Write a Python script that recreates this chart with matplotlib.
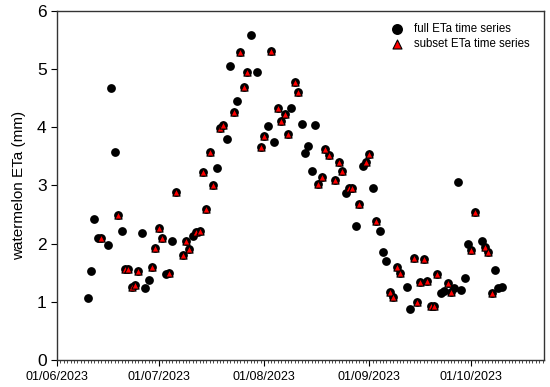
import matplotlib
matplotlib.use('Agg')
import matplotlib.pyplot as plt
import matplotlib.dates as mdates
import pandas as pd

plt.rcParams['font.family'] = ['Liberation Sans', 'DejaVu Sans']

# day offsets from 1 June 2023 and ETa (mm) of the full series
full_day = [9, 10, 11, 12, 13, 15, 16, 17, 18, 19, 20, 21, 22, 23, 24, 25, 26, 27, 28, 29,
            30, 31, 32, 33, 34, 35, 37, 38, 39, 40, 41, 42, 43, 44, 45, 46, 47, 48, 49, 50,
            51, 52, 53, 54, 55, 56, 57, 59, 60, 61, 62, 63, 64, 65, 66, 67, 68, 69, 70, 71,
            72, 73, 74, 75, 76, 77, 78, 79, 80, 82, 83, 84, 85, 86, 87, 88, 89, 90, 91, 92,
            93, 94, 95, 96, 97, 98, 99, 100, 101, 103, 104, 105, 106, 107, 108, 109, 110, 111, 112, 113,
            114, 115, 116, 117, 118, 119, 120, 121, 122, 123, 125, 126, 127, 128, 129, 130, 131]
full_eta = [1.07, 1.53, 2.42, 2.10, 2.10, 1.98, 4.68, 3.58, 2.49, 2.22, 1.57, 1.57, 1.25, 1.29, 1.53, 2.18, 1.23, 1.37, 1.59, 1.92,
            2.27, 2.10, 1.47, 1.50, 2.04, 2.88, 1.80, 2.04, 1.91, 2.13, 2.20, 2.22, 3.23, 2.60, 3.58, 3.00, 3.30, 3.99, 4.04, 3.79,
            5.05, 4.26, 4.45, 5.29, 4.69, 4.94, 5.58, 4.94, 3.66, 3.84, 4.02, 5.30, 3.75, 4.33, 4.11, 4.22, 3.88, 4.32, 4.78, 4.60,
            4.05, 3.55, 3.68, 3.25, 4.04, 3.03, 3.15, 3.63, 3.52, 3.09, 3.40, 3.25, 2.86, 2.96, 2.95, 2.31, 2.68, 3.34, 3.40, 3.54,
            2.96, 2.38, 2.22, 1.86, 1.70, 1.17, 1.09, 1.59, 1.49, 1.26, 0.88, 1.75, 1.00, 1.34, 1.73, 1.36, 0.92, 0.93, 1.47, 1.15,
            1.19, 1.32, 1.17, 1.23, 3.05, 1.20, 1.40, 1.99, 1.89, 2.54, 2.05, 1.94, 1.85, 1.15, 1.55, 1.24, 1.25]

# days that are also in the subset series
subset_day = [13, 18, 20, 21, 22, 23, 24, 28, 29, 30, 31, 33, 35, 37, 38, 39, 41, 42, 43, 44,
              45, 46, 48, 49, 52, 54, 55, 56, 60, 61, 63, 65, 66, 67, 68, 70, 71, 77, 78, 79,
              80, 82, 83, 84, 86, 87, 89, 91, 92, 94, 98, 99, 100, 101, 105, 106, 107, 108, 109, 110,
              111, 112, 115, 116, 122, 123, 126, 127, 128]

start = pd.Timestamp('2023-06-01')
full = pd.DataFrame({'eta': full_eta}, index=start + pd.to_timedelta(full_day, unit='D'))
subset = full.loc[start + pd.to_timedelta(subset_day, unit='D')]

fig = plt.figure(figsize=(5.5, 3.87), dpi=100)
ax = fig.add_axes([0.1036, 0.0698, 0.8855, 0.9026])

ax.scatter(full.index, full['eta'], s=40, c='black', marker='o', linewidths=0,
           label='full ETa time series', zorder=2)
ax.scatter(subset.index, subset['eta'], s=27, c='#ff0000', marker='^', edgecolors='black',
           linewidths=0.8, label='subset ETa time series', zorder=3)

ax.set_xlim(start, start + pd.Timedelta(days=143.4))
ax.set_ylim(0, 6)
ax.set_yticks(range(0, 7))

ax.xaxis.set_major_locator(mdates.MonthLocator())
ax.xaxis.set_major_formatter(mdates.DateFormatter('%d/%m/%Y'))
ax.xaxis.set_minor_locator(mdates.DayLocator())

ax.tick_params(axis='x', which='major', length=4, width=0.8, labelsize=9, pad=4)
ax.tick_params(axis='x', which='minor', length=2.2, width=0.5)
ax.tick_params(axis='y', which='major', length=4.5, width=0.8, labelsize=12.5, pad=3)

for sp in ax.spines.values():
    sp.set_linewidth(1.0)
    sp.set_color('#333333')

ax.set_ylabel('watermelon ETa (mm)', fontsize=11, labelpad=8)

ax.legend(loc='upper right', bbox_to_anchor=(0.985, 0.985), frameon=False, fontsize=8.3,
          handletextpad=0.9, labelspacing=0.3, borderaxespad=0.2, handlelength=1.2,
          markerscale=1.25)

plt.savefig('out.png', dpi=100)
plt.close()
